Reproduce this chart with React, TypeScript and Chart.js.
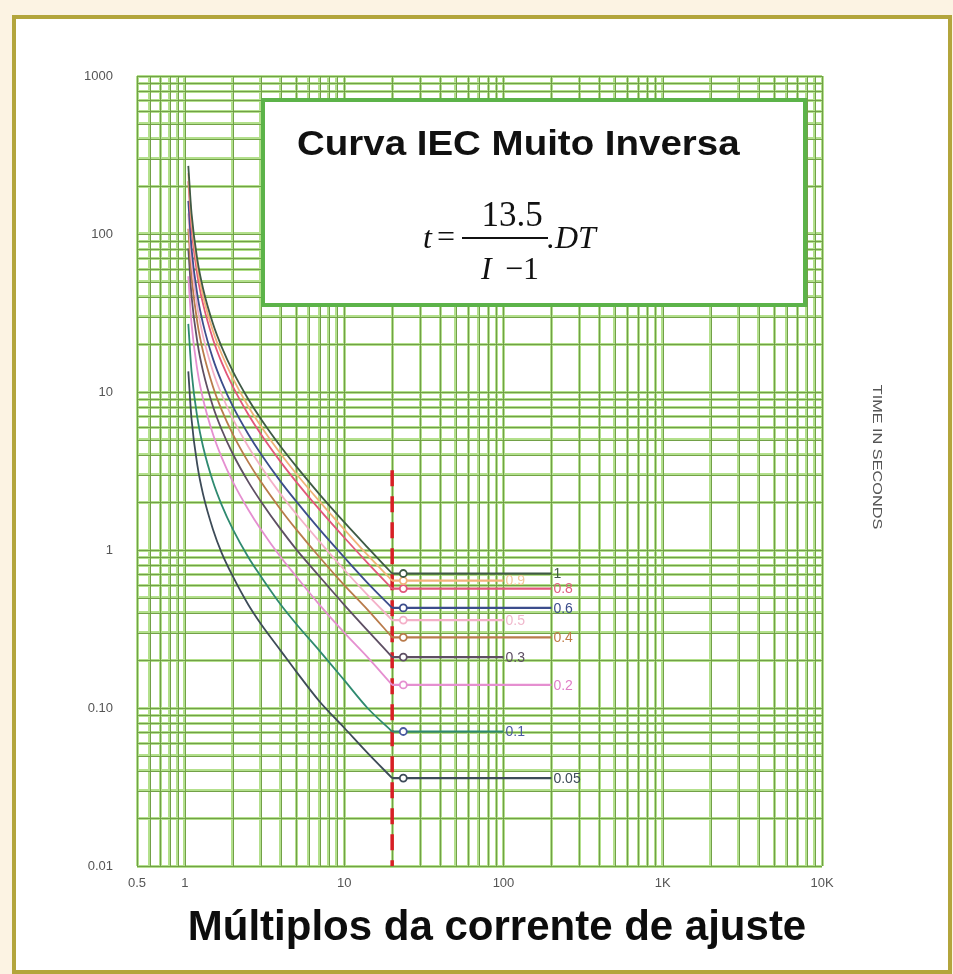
import React, { useEffect, useRef } from 'react';
import { Chart, registerables } from 'chart.js';

Chart.register(...registerables);

// ---------- data ----------
const CURRENT_MULTIPLES = [1.05, 1.1, 1.2, 1.3, 1.5, 1.7, 2, 2.5, 3, 4, 5, 7, 10, 14, 20];

const DT_LABELS = ['1', '0.9', '0.8', '0.6', '0.5', '0.4', '0.3', '0.2', '0.1', '0.05'];

const T_DT_1 = [270, 135, 67.5, 45, 27, 19.3, 13.5, 9.0, 6.75, 4.5, 3.38, 2.25, 1.5, 1.04, 0.71];
const T_DT_09 = [243, 121.5, 60.8, 40.5, 24.3, 17.4, 12.2, 8.1, 6.08, 4.05, 3.04, 2.03, 1.35, 0.93, 0.64];
const T_DT_08 = [216, 108, 54, 36, 21.6, 15.4, 10.8, 7.2, 5.4, 3.6, 2.7, 1.8, 1.2, 0.83, 0.57];
const T_DT_06 = [162, 81, 40.5, 27, 16.2, 11.6, 8.1, 5.4, 4.05, 2.7, 2.03, 1.35, 0.9, 0.62, 0.43];
const T_DT_05 = [135, 67.5, 33.8, 22.5, 13.5, 9.64, 6.75, 4.5, 3.38, 2.25, 1.69, 1.13, 0.75, 0.52, 0.36];
const T_DT_04 = [108, 54, 27, 18, 10.8, 7.71, 5.4, 3.6, 2.7, 1.8, 1.35, 0.9, 0.6, 0.42, 0.28];
const T_DT_03 = [81, 40.5, 20.3, 13.5, 8.1, 5.79, 4.05, 2.7, 2.03, 1.35, 1.01, 0.68, 0.45, 0.31, 0.21];
const T_DT_02 = [54, 27, 13.5, 9, 5.4, 3.86, 2.7, 1.8, 1.35, 0.9, 0.68, 0.45, 0.3, 0.21, 0.14];
const T_DT_01 = [27, 13.5, 6.75, 4.5, 2.7, 1.93, 1.35, 0.9, 0.68, 0.45, 0.34, 0.23, 0.15, 0.1, 0.071];
const T_DT_005 = [13.5, 6.75, 3.38, 2.25, 1.35, 0.96, 0.68, 0.45, 0.34, 0.23, 0.17, 0.11, 0.075, 0.052, 0.036];

const CURVE_TIMES = [T_DT_1, T_DT_09, T_DT_08, T_DT_06, T_DT_05, T_DT_04, T_DT_03, T_DT_02, T_DT_01, T_DT_005];

// where each flat segment (after the 20x limit) ends
const PLATEAU_END = [200, 100, 200, 200, 100, 200, 100, 200, 100, 200];
const PLATEAU_MARKER = 23.5;

const CURVE_COLORS = ['#3f5a45', '#f2b27a', '#e2577a', '#3c4d8c', '#f4b0c8', '#b97b4b', '#5e4f63', '#e58fd0', '#2f8a70', '#3d4b58'];
const LABEL_COLORS = ['#3f5a45', '#f3c79a', '#e0607f', '#3c4d8c', '#f0b8cc', '#c07d48', '#5e4f63', '#e07fc8', '#4a5aa0', '#3d4b58'];
const MARKER_COLORS = ['#3f5a45', '#f2b27a', '#e2577a', '#3c4d8c', '#f4b0c8', '#b97b4b', '#5e4f63', '#e58fd0', '#4a5aa0', '#3d4b58'];

const X_TICK_VALUES = [0.5, 1, 10, 100, 1000, 10000];
const X_TICK_LABELS = ['0.5', '1', '10', '100', '1K', '10K'];
const Y_TICK_VALUES = [0.01, 0.1, 1, 10, 100, 1000];
const Y_TICK_LABELS = ['0.01', '0.10', '1', '10', '100', '1000'];

const LIMIT_MULTIPLE = 20;
const LIMIT_LINE_TOP = 3.2;

const X_TITLE = 'Múltiplos da corrente de ajuste';
const Y_TITLE = 'TIME IN SECONDS';
const BOX_TITLE = 'Curva IEC Muito Inversa';

// ---------- helpers ----------
const SANS = '"Liberation Sans", Arial, sans-serif';
const SERIF = '"Liberation Serif", "Times New Roman", serif';

function gridValues(min: number, max: number) {
  const out: number[] = [];
  for (let e = -3; e <= 5; e++) {
    for (let m = 1; m <= 9; m++) {
      const v = Number((m * Math.pow(10, e)).toPrecision(6));
      if (v >= min - 1e-12 && v <= max + 1e-12) out.push(v);
    }
  }
  return out;
}

function labelFor(value: number, values: number[], labels: string[]) {
  for (let i = 0; i < values.length; i++) {
    if (Math.abs(value - values[i]) / values[i] < 1e-6) return labels[i];
  }
  return '';
}

const GRID_LIGHT = '#b3e08c';
const GRID_CORE = '#72a048';

const framePlugin = {
  id: 'frame',
  beforeDraw(chart: any) {
    const { ctx, width, height } = chart;
    ctx.save();
    ctx.fillStyle = '#fcf3e3';
    ctx.fillRect(0, 0, width, height);
    ctx.fillStyle = '#ffffff';
    ctx.fillRect(14, 17, 936, 955);
    ctx.strokeStyle = '#b3a53c';
    ctx.lineWidth = 4;
    ctx.strokeRect(14, 17, 936, 955);
    ctx.restore();
  },
};

const gridCorePlugin = {
  id: 'gridCore',
  beforeDatasetsDraw(chart: any) {
    const { ctx, chartArea } = chart;
    const xs = chart.scales.x;
    const ys = chart.scales.y;
    ctx.save();
    ctx.strokeStyle = GRID_CORE;
    ctx.lineWidth = 1;
    ctx.beginPath();
    xs.ticks.forEach((t: any) => {
      const p = Math.round(xs.getPixelForValue(t.value)) + 0.5;
      ctx.moveTo(p, chartArea.top);
      ctx.lineTo(p, chartArea.bottom);
    });
    ys.ticks.forEach((t: any) => {
      const p = Math.round(ys.getPixelForValue(t.value)) + 0.5;
      ctx.moveTo(chartArea.left, p);
      ctx.lineTo(chartArea.right, p);
    });
    ctx.stroke();

    // formula box
    ctx.fillStyle = '#ffffff';
    ctx.fillRect(263, 100, 542, 205);
    ctx.strokeStyle = '#5cb349';
    ctx.lineWidth = 4;
    ctx.strokeRect(263, 100, 542, 205);

    ctx.fillStyle = '#111111';
    ctx.textBaseline = 'alphabetic';
    ctx.textAlign = 'left';
    ctx.save();
    ctx.translate(297, 155);
    ctx.scale(1.04, 0.96);
    ctx.font = `bold 37px ${SANS}`;
    ctx.fillText(BOX_TITLE, 0, 0);
    ctx.restore();

    ctx.font = `italic 32px ${SERIF}`;
    ctx.fillText('t', 423, 248);
    ctx.font = `32px ${SERIF}`;
    ctx.fillText('=', 437, 247);
    ctx.fillRect(462, 237, 86, 2);
    ctx.textAlign = 'center';
    ctx.font = `35px ${SERIF}`;
    ctx.fillText('13.5', 512, 226);
    ctx.textAlign = 'left';
    ctx.font = `italic 32px ${SERIF}`;
    ctx.fillText('I', 481, 279);
    ctx.font = `32px ${SERIF}`;
    ctx.fillText('\u22121', 505, 279);
    ctx.font = `italic 32px ${SERIF}`;
    ctx.fillText('.DT', 547, 248);
    ctx.restore();
  },
};

const textPlugin = {
  id: 'texts',
  afterDatasetsDraw(chart: any) {
    const { ctx } = chart;
    ctx.save();
    // curve labels
    ctx.font = `14px ${SANS}`;
    ctx.textBaseline = 'middle';
    ctx.textAlign = 'left';
    DT_LABELS.forEach((lab, i) => {
      const meta = chart.getDatasetMeta(DT_LABELS.length + i);
      const last = meta.data[meta.data.length - 1];
      ctx.fillStyle = LABEL_COLORS[i];
      ctx.fillText(lab, last.x + 2, last.y + 1);
    });

    // x-axis title
    ctx.fillStyle = '#0d0d0d';
    ctx.textAlign = 'center';
    ctx.textBaseline = 'alphabetic';
    ctx.font = `bold 42px ${SANS}`;
    ctx.fillText(X_TITLE, 497, 940);

    // rotated right-hand title
    ctx.translate(877, 457);
    ctx.rotate(Math.PI / 2);
    ctx.scale(1.25, 1);
    ctx.font = `13px ${SANS}`;
    ctx.fillStyle = '#555555';
    ctx.textAlign = 'center';
    ctx.textBaseline = 'middle';
    ctx.fillText(Y_TITLE, 0, 0);
    ctx.restore();
  },
};

export default function App() {
  const ref = useRef<HTMLCanvasElement>(null);

  useEffect(() => {
    const canvas = ref.current;
    if (!canvas) return;

    const curveSets = CURVE_TIMES.map((times, i) => ({
      label: 'DT ' + DT_LABELS[i],
      data: CURRENT_MULTIPLES.map((x, k) => ({ x, y: times[k] })),
      borderColor: CURVE_COLORS[i],
      borderWidth: 1.8,
      pointRadius: 0,
      cubicInterpolationMode: 'monotone',
      fill: false,
    }));

    const plateauSets = CURVE_TIMES.map((times, i) => {
      const last = times[times.length - 1];
      return {
        label: 'plateau ' + DT_LABELS[i],
        data: [
          { x: LIMIT_MULTIPLE, y: last },
          { x: PLATEAU_MARKER, y: last },
          { x: PLATEAU_END[i], y: last },
        ],
        borderColor: CURVE_COLORS[i],
        borderWidth: 2.2,
        pointRadius: (c: any) => (c.dataIndex === 1 ? 3.5 : 0),
        pointBackgroundColor: '#ffffff',
        pointBorderColor: MARKER_COLORS[i],
        pointBorderWidth: 1.8,
        tension: 0,
        fill: false,
      };
    });

    const limitSet = {
      label: 'limit',
      data: [
        { x: LIMIT_MULTIPLE, y: LIMIT_LINE_TOP },
        { x: LIMIT_MULTIPLE, y: Y_TICK_VALUES[0] },
      ],
      borderColor: '#d81e25',
      borderWidth: 3.5,
      borderDash: [16, 10],
      pointRadius: 0,
      tension: 0,
      fill: false,
    };

    const X_GRID = gridValues(X_TICK_VALUES[0], X_TICK_VALUES[X_TICK_VALUES.length - 1]);
    const Y_GRID = gridValues(Y_TICK_VALUES[0], Y_TICK_VALUES[Y_TICK_VALUES.length - 1]);

    const chart = new Chart(canvas, {
      type: 'line',
      data: { datasets: [...curveSets, ...plateauSets, limitSet] as any },
      options: {
        responsive: false,
        animation: false,
        devicePixelRatio: 1,
        plugins: { legend: { display: false }, tooltip: { enabled: false } },
        layout: { padding: { left: 0, top: 76, right: 131, bottom: 0 } },
        scales: {
          x: {
            type: 'logarithmic',
            min: X_TICK_VALUES[0],
            max: X_TICK_VALUES[X_TICK_VALUES.length - 1],
            afterBuildTicks: (s: any) => {
              s.ticks = X_GRID.map((v) => ({ value: v }));
            },
            afterFit: (s: any) => {
              s.height = 108;
              s.paddingLeft = 0;
              s.paddingRight = 0;
            },
            grid: { color: GRID_LIGHT, lineWidth: 3, drawTicks: false },
            border: { display: false },
            ticks: {
              autoSkip: false,
              maxRotation: 0,
              minRotation: 0,
              padding: 10,
              color: '#555555',
              font: { family: SANS, size: 13 },
              callback: (v: any) => labelFor(Number(v), X_TICK_VALUES, X_TICK_LABELS),
            },
          },
          y: {
            type: 'logarithmic',
            min: Y_TICK_VALUES[0],
            max: Y_TICK_VALUES[Y_TICK_VALUES.length - 1],
            afterBuildTicks: (s: any) => {
              s.ticks = Y_GRID.map((v) => ({ value: v }));
            },
            afterFit: (s: any) => {
              s.width = 137;
              s.paddingTop = 0;
              s.paddingBottom = 0;
            },
            grid: { color: GRID_LIGHT, lineWidth: 3, drawTicks: false },
            border: { display: false },
            ticks: {
              autoSkip: false,
              padding: 24,
              color: '#555555',
              font: { family: SANS, size: 13 },
              callback: (v: any) => labelFor(Number(v), Y_TICK_VALUES, Y_TICK_LABELS),
            },
          },
        },
      } as any,
      plugins: [framePlugin, gridCorePlugin, textPlugin],
    });

    return () => chart.destroy();
  }, []);

  return (
    <div style={{ position: 'absolute', left: 0, top: 0, width: 953, height: 974 }}>
      <canvas ref={ref} width={953} height={974} style={{ display: 'block' }} />
    </div>
  );
}
